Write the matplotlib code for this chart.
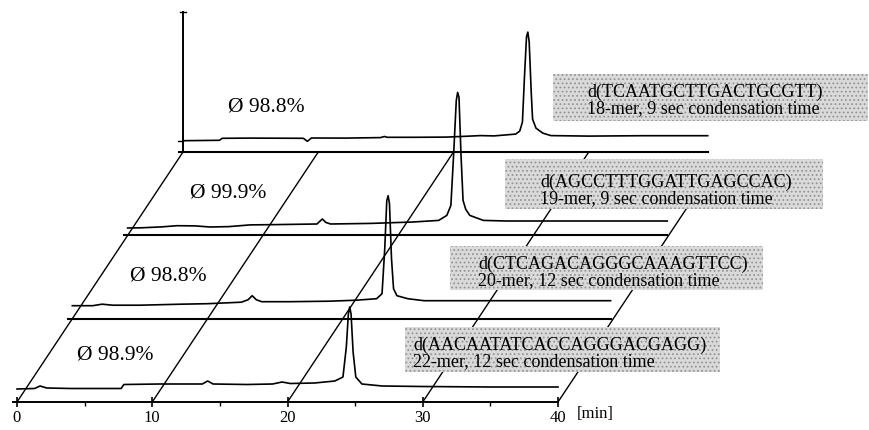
import numpy as np
import matplotlib.pyplot as plt
from matplotlib.patches import Rectangle

# chromatograms, front (22-mer) to back (18-mer)
# time in min, signal in arbitrary units (height above the floor of each lane)
t_22 = [0, 1.3, 1.7, 2.2, 4, 7.7, 7.9, 10.6, 13.7, 14.1, 14.5, 17, 18.9, 19.6, 20.2, 22, 23.5,
        24.1, 24.35, 24.5, 24.6, 24.7, 24.85, 25.05, 25.5, 27, 30, 35, 40]
s_22 = [13, 13.5, 16, 14, 13.5, 13.5, 17.5, 18, 18, 21, 18, 17.5, 18, 20, 18.5, 19, 21,
        25, 55, 88, 95, 88, 50, 25, 18, 16, 15.5, 15, 15]

t_20 = [0, 1.5, 2.2, 3.0, 5, 8, 10, 12.5, 13.0, 13.3, 13.6, 14, 16, 19, 21, 22.5,
        22.9, 23.1, 23.25, 23.35, 23.45, 23.6, 23.75, 24.0, 24.8, 26, 30, 35, 39.8]
s_20 = [13, 13, 14.5, 13.5, 13.5, 14.5, 15, 16.5, 19, 23, 19, 17, 17, 17.5, 18.5, 20,
        25, 70, 118, 123, 115, 60, 30, 23, 20, 18, 18, 18, 18]

t_19 = [0, 1, 2.5, 3.65, 5, 6.1, 7.5, 9.05, 11, 14.0, 14.2, 14.4, 14.65, 15, 18, 21.1,
        23.0, 23.6, 23.9, 24.1, 24.3, 24.4, 24.5, 24.65, 24.8, 25.0, 25.3, 26.3, 28, 32, 39.9]
s_19 = [7.4, 7.6, 8.5, 9.7, 9.5, 8.4, 8.8, 10.5, 10.8, 11.4, 14, 16.4, 13, 11.4, 12, 13.4,
        15, 20, 30, 80, 135, 143, 138, 80, 35, 26, 20, 15, 14.4, 14.4, 14.4]

t_18 = [0, 2.7, 2.9, 5, 8.9, 9.2, 9.5, 12, 14.6, 14.9, 15.1, 17, 19.5, 21.2, 22, 23,
        24.6, 24.9, 25.1, 25.25, 25.4, 25.5, 25.6, 25.75, 25.85, 26.1, 26.6, 27.2, 30, 34, 38.8]
s_18 = [11.4, 11.8, 13.8, 14, 13.8, 10.8, 14.1, 14, 14.5, 15.6, 14.8, 14.8, 15.0, 16.0, 16.5, 16.2,
        18, 21, 30, 75, 115, 120, 110, 60, 33, 24, 19, 16.5, 16, 16.4, 16.4]

times = [t_22, t_20, t_19, t_18]
signals = [s_22, s_20, s_19, s_18]
names = ["d(AACAATATCACCAGGGACGAGG)", "d(CTCAGACAGGGCAAAGTTCC)",
         "d(AGCCTTTGGATTGAGCCAC)", "d(TCAATGCTTGACTGCGTT)"]
infos = ["22-mer, 12 sec condensation time", "20-mer, 12 sec condensation time",
         "19-mer, 9 sec condensation time", "18-mer, 9 sec condensation time"]
purity = ["\u00d8 98.9%", "\u00d8 98.8%", "\u00d8 99.9%", "\u00d8 98.8%"]
grid_times = [0, 10, 20, 30, 40]

# layout of the pseudo 3d stack (pixels of the scan)
PXMIN = 13.525          # px per minute
DX = 4.09               # lane shift to the right, min
DY = 83.3               # lane shift upward
boxes = [(405, 328, 720, 373), (450, 247, 763, 291), (505, 160, 823, 210), (553, 75, 868, 122)]
box_text = [(413, 345, 362), (478, 264, 281), (540, 182, 199), (587, 92, 109)]
pur_pos = [(77, 355), (130, 276), (190, 193), (228, 107)]


def px(x, y):
    return (x - 17) / PXMIN, 403 - y


serif = "Liberation Serif"
fig = plt.figure(figsize=(8.69, 4.31), dpi=100)
ax = fig.add_axes([0, 0, 1, 1])
ax.set_xlim(-17 / PXMIN, (869 - 17) / PXMIN)
ax.set_ylim(403 - 431, 403)
for s in ["left", "right", "top"]:
    ax.spines[s].set_visible(False)
ax.spines["bottom"].set_position(("data", 0))
ax.spines["bottom"].set_bounds(-0.3, 40)
ax.spines["bottom"].set_linewidth(1.4)
ax.set_yticks([])
ax.set_xticks(grid_times)
ax.set_xticks([5, 15, 25, 35], minor=True)
ax.tick_params(axis="x", which="major", direction="inout", length=7, width=1.2, pad=1.5,
               labelsize=12, labelfontfamily=serif)
ax.tick_params(axis="x", which="minor", direction="out", length=3, width=1.0)
ax.text(*px(577, 414), "[min]", fontsize=12, family=serif, ha="left", va="center")

# floor lines and traces
for k in range(4):
    t = np.array(times[k])
    s = np.array(signals[k])
    ax.plot(t + k * DX, s + k * DY, color="black", lw=1.2, zorder=3)
    if k > 0:
        ax.plot([-0.3 + k * DX, t[-1] + k * DX], [k * DY, k * DY], color="black", lw=1.5, zorder=3)

# slanted time grid lines
for g in grid_times:
    depth = 3 if g < 40 else 2.6
    ax.plot([g, g + depth * DX], [0, depth * DY], color="black", lw=1.0, zorder=2)

# signal axis on the back lane
x0 = 3 * DX
ax.plot([x0, x0], [3 * DY, 390], color="black", lw=1.4, zorder=3)
ax.plot([x0 - 0.25, x0 + 0.25], [390, 390], color="black", lw=1.0, zorder=3)
ax.plot([x0 - 0.35, x0], [3 * DY + 11, 3 * DY + 11], color="black", lw=1.0, zorder=3)

plt.rcParams["hatch.linewidth"] = 0.8
for k in range(4):
    x1, y1, x2, y2 = boxes[k]
    bx, by = px(x1, y2)
    ex, ey = px(x2, y1)
    ax.add_patch(Rectangle((bx, by), ex - bx, ey - by, facecolor="#dadada", edgecolor="#959595",
                           hatch="....", lw=0, zorder=4))
    tx, ty1, ty2 = box_text[k]
    ax.text(*px(tx, ty1), names[k], fontsize=13, family=serif, ha="left", va="center", zorder=5)
    ax.text(*px(tx, ty2), infos[k], fontsize=13, family=serif, ha="left", va="center", zorder=5)
    ax.text(*px(*pur_pos[k]), purity[k], fontsize=15.5, family=serif, ha="left", va="center", zorder=5)

fig.savefig("out.png", dpi=100)
